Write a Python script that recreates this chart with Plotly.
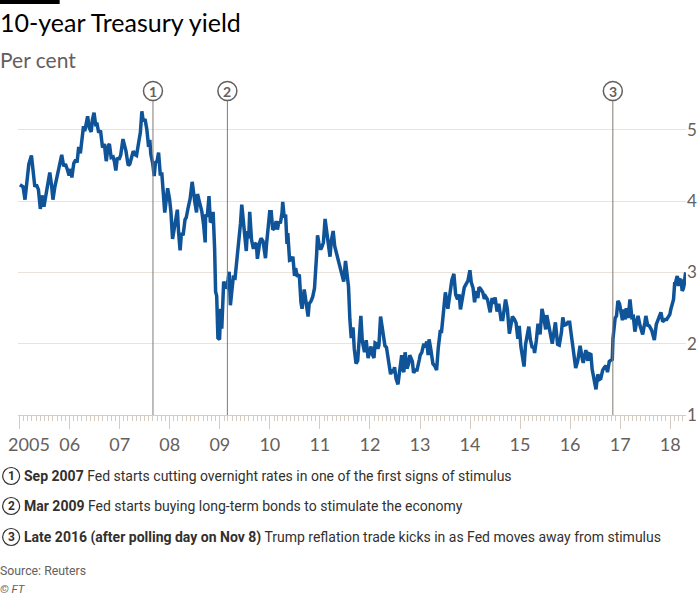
import plotly.graph_objects as go

# ---------------- data ----------------
dates = [
    # 2005
    "2005-01-03","2005-01-14","2005-01-26","2005-02-09","2005-02-22","2005-03-09","2005-03-28","2005-04-12",
    "2005-04-22","2005-05-03","2005-05-18","2005-06-01","2005-06-13","2005-06-27","2005-07-11","2005-07-29",
    "2005-08-09","2005-08-22","2005-09-01","2005-09-15","2005-09-29","2005-10-14","2005-10-27","2005-11-04",
    "2005-11-18","2005-12-01","2005-12-14","2005-12-28",
    # 2006
    "2006-01-10","2006-01-17","2006-01-31","2006-02-14","2006-02-24","2006-03-08","2006-03-20","2006-03-31",
    "2006-04-12","2006-04-21","2006-05-02","2006-05-12","2006-05-24","2006-06-07","2006-06-16","2006-06-28",
    "2006-07-11","2006-07-18","2006-08-01","2006-08-14","2006-08-29","2006-09-11","2006-09-25","2006-10-10",
    "2006-10-18","2006-10-31","2006-11-14","2006-11-24","2006-12-04","2006-12-15","2006-12-27",
    # 2007
    "2007-01-09","2007-01-25","2007-02-07","2007-02-16","2007-02-28","2007-03-05","2007-03-16","2007-03-29",
    "2007-04-10","2007-04-24","2007-05-04","2007-05-22","2007-06-01","2007-06-12","2007-06-22","2007-07-05",
    "2007-07-18","2007-07-31","2007-08-09","2007-08-16","2007-08-30","2007-09-10","2007-09-19","2007-10-01",
    "2007-10-12","2007-10-24","2007-11-05","2007-11-26","2007-12-06","2007-12-17","2007-12-31",
    # 2008
    "2008-01-10","2008-01-22","2008-02-01","2008-02-14","2008-02-26","2008-03-06","2008-03-17","2008-03-27",
    "2008-04-08","2008-04-22","2008-05-01","2008-05-15","2008-05-29","2008-06-13","2008-06-24","2008-07-03",
    "2008-07-15","2008-07-22","2008-08-05","2008-08-22","2008-09-05","2008-09-16","2008-09-19","2008-10-01",
    "2008-10-14","2008-10-24","2008-11-04","2008-11-13","2008-11-24","2008-12-01","2008-12-09","2008-12-18",
    "2008-12-30",
    # 2009
    "2009-01-07","2009-01-15","2009-01-29","2009-02-10","2009-02-20","2009-03-02","2009-03-10","2009-03-19",
    "2009-03-30","2009-04-09","2009-04-22","2009-05-05","2009-05-21","2009-06-01","2009-06-10","2009-06-23",
    "2009-07-02","2009-07-13","2009-07-21","2009-07-31","2009-08-07","2009-08-20","2009-09-03","2009-09-11",
    "2009-09-24","2009-10-02","2009-10-19","2009-10-29","2009-11-12","2009-11-30","2009-12-08","2009-12-21",
    "2009-12-31",
    # 2010
    "2010-01-11","2010-01-22","2010-02-04","2010-02-16","2010-02-25","2010-03-08","2010-03-19","2010-03-31",
    "2010-04-05","2010-04-16","2010-04-26","2010-05-06","2010-05-12","2010-05-25","2010-06-09","2010-06-18",
    "2010-06-30","2010-07-08","2010-07-20","2010-08-04","2010-08-16","2010-08-24","2010-09-09","2010-09-21",
    "2010-10-07","2010-10-15","2010-10-29","2010-11-10","2010-11-23","2010-12-08","2010-12-15","2010-12-29",
    # 2011
    "2011-01-07","2011-01-18","2011-01-27","2011-02-08","2011-02-18","2011-03-01","2011-03-16","2011-03-25",
    "2011-04-08","2011-04-19","2011-04-29","2011-05-11","2011-05-31","2011-06-09","2011-06-24","2011-07-07",
    "2011-07-19","2011-07-29","2011-08-08","2011-08-18","2011-08-31","2011-09-09","2011-09-22","2011-10-04",
    "2011-10-27","2011-11-07","2011-11-23","2011-12-05","2011-12-19","2011-12-30",
    # 2012
    "2012-01-09","2012-01-17","2012-01-31","2012-02-08","2012-02-16","2012-02-28","2012-03-07","2012-03-19",
    "2012-03-30","2012-04-10","2012-04-20","2012-05-01","2012-05-15","2012-05-31","2012-06-08","2012-06-18",
    "2012-06-29","2012-07-10","2012-07-24","2012-08-06","2012-08-20","2012-08-30","2012-09-05","2012-09-14",
    "2012-09-28","2012-10-10","2012-10-18","2012-11-06","2012-11-15","2012-11-28","2012-12-10","2012-12-26",
    # 2013
    "2013-01-02","2013-01-14","2013-01-29","2013-02-08","2013-02-19","2013-03-01","2013-03-08","2013-03-20",
    "2013-04-05","2013-04-18","2013-05-02","2013-05-14","2013-05-28","2013-06-07","2013-06-24","2013-07-05",
    "2013-07-23","2013-08-05","2013-08-21","2013-09-05","2013-09-18","2013-10-02","2013-10-14","2013-10-23",
    "2013-11-06","2013-11-20","2013-12-04","2013-12-16","2013-12-31",
    # 2014
    "2014-01-10","2014-01-23","2014-02-03","2014-02-14","2014-02-27","2014-03-07","2014-03-19","2014-04-04",
    "2014-04-15","2014-04-25","2014-05-08","2014-05-28","2014-06-11","2014-06-25","2014-07-03","2014-07-17",
    "2014-07-30","2014-08-15","2014-08-28","2014-09-17","2014-09-30","2014-10-15","2014-10-24","2014-11-06",
    "2014-11-21","2014-12-03","2014-12-16","2014-12-26",
    # 2015
    "2015-01-07","2015-01-16","2015-01-30","2015-02-10","2015-02-20","2015-03-06","2015-03-17","2015-03-31",
    "2015-04-10","2015-04-17","2015-04-30","2015-05-12","2015-05-27","2015-06-10","2015-06-23","2015-07-07",
    "2015-07-15","2015-07-31","2015-08-11","2015-08-24","2015-09-08","2015-09-16","2015-10-02","2015-10-14",
    "2015-10-30","2015-11-09","2015-11-20","2015-12-04","2015-12-16","2015-12-29",
    # 2016
    "2016-01-06","2016-01-20","2016-02-02","2016-02-11","2016-02-26","2016-03-14","2016-03-31","2016-04-06",
    "2016-04-25","2016-05-10","2016-05-19","2016-06-01","2016-06-10","2016-06-27","2016-07-08","2016-07-21",
    "2016-08-03","2016-08-12","2016-08-26","2016-09-09","2016-09-20","2016-09-30","2016-10-13","2016-10-25",
    "2016-11-04","2016-11-09","2016-11-15","2016-11-25","2016-12-05","2016-12-15","2016-12-27",
    # 2017
    "2017-01-06","2017-01-17","2017-01-27","2017-02-07","2017-02-14","2017-02-28","2017-03-13","2017-03-27",
    "2017-04-07","2017-04-18","2017-05-02","2017-05-11","2017-05-26","2017-06-14","2017-06-30","2017-07-07",
    "2017-07-20","2017-08-01","2017-08-18","2017-09-07","2017-09-21","2017-10-04","2017-10-25","2017-11-07",
    "2017-11-24","2017-12-06","2017-12-18","2017-12-29",
    # 2018
    "2018-01-05","2018-01-12","2018-01-25","2018-02-02","2018-02-07","2018-02-15","2018-02-21","2018-03-01",
    "2018-03-09","2018-03-21","2018-03-29","2018-04-06","2018-04-13","2018-04-20","2018-04-24",
]

yields = [
    # 2005
    4.23,4.21,4.20,4.02,4.28,4.52,4.64,4.39,
    4.20,4.23,4.16,3.89,4.08,3.92,4.10,4.28,
    4.40,4.22,4.02,4.20,4.33,4.48,4.55,4.65,
    4.49,4.52,4.45,4.36,
    # 2006
    4.45,4.33,4.53,4.58,4.54,4.76,4.67,4.85,
    5.05,4.98,5.12,5.19,5.03,4.97,5.14,5.24,
    5.05,5.10,4.96,4.99,4.75,4.80,4.56,4.78,
    4.80,4.61,4.62,4.55,4.43,4.61,4.58,
    # 2007
    4.65,4.87,4.78,4.70,4.55,4.50,4.52,4.63,
    4.70,4.65,4.64,4.85,4.96,5.26,5.12,5.15,
    5.01,4.76,4.86,4.66,4.53,4.35,4.54,4.56,
    4.68,4.38,4.38,3.84,4.00,4.18,4.03,
    # 2008
    3.85,3.47,3.59,3.79,3.88,3.56,3.31,3.55,
    3.52,3.74,3.77,3.91,4.03,4.27,4.07,3.98,
    3.84,4.10,3.99,3.86,3.66,3.42,3.81,3.78,
    4.07,3.70,3.73,3.85,3.33,2.73,2.67,2.08,
    2.06,
    # 2009
    2.49,2.21,2.87,2.80,2.79,2.90,3.01,2.54,
    2.71,2.93,2.92,3.16,3.40,3.69,3.95,3.65,
    3.50,3.30,3.58,3.48,3.85,3.46,3.33,3.39,
    3.41,3.19,3.42,3.48,3.44,3.20,3.40,3.60,
    3.85,
    # 2010
    3.85,3.60,3.62,3.72,3.60,3.71,3.69,3.84,
    3.99,3.77,3.81,3.40,3.55,3.17,3.18,3.22,
    2.95,3.06,2.94,2.97,2.58,2.49,2.76,2.61,
    2.38,2.56,2.60,2.66,2.78,3.24,3.52,3.36,
    # 2011
    3.32,3.37,3.42,3.75,3.58,3.41,3.22,3.44,
    3.58,3.37,3.29,3.21,3.05,2.98,2.87,3.16,
    2.89,2.80,2.34,2.08,2.23,1.93,1.72,1.76,
    2.39,2.03,1.88,2.05,1.80,1.88,
    # 2012
    1.96,1.86,1.80,2.01,2.00,1.93,1.98,2.38,
    2.21,2.05,1.97,1.95,1.76,1.57,1.64,1.59,
    1.67,1.51,1.43,1.59,1.84,1.63,1.60,1.88,
    1.65,1.72,1.84,1.75,1.59,1.63,1.63,1.77,
    # 2013
    1.84,1.88,2.00,1.95,2.03,1.84,2.06,1.93,
    1.72,1.69,1.63,1.94,2.17,2.17,2.55,2.72,
    2.49,2.64,2.89,2.98,2.69,2.62,2.69,2.48,
    2.62,2.79,2.84,2.88,3.03,
    # 2014
    2.86,2.78,2.58,2.74,2.64,2.79,2.77,2.72,
    2.63,2.66,2.62,2.44,2.64,2.56,2.65,2.45,
    2.56,2.34,2.34,2.62,2.49,2.14,2.27,2.38,
    2.34,2.29,2.07,2.25,
    # 2015
    1.96,1.83,1.68,1.99,2.13,2.24,2.06,1.94,
    1.96,1.87,2.05,2.28,2.13,2.49,2.37,2.20,
    2.40,2.20,2.13,2.00,2.23,2.30,1.99,1.98,
    2.16,2.37,2.26,2.27,2.30,2.30,
    # 2016
    2.18,1.98,1.86,1.66,1.76,1.97,1.78,1.73,
    1.91,1.76,1.86,1.85,1.64,1.46,1.36,1.57,
    1.50,1.51,1.63,1.67,1.69,1.60,1.75,1.77,
    1.78,2.07,2.22,2.36,2.39,2.60,2.56,
    # 2017
    2.42,2.33,2.48,2.34,2.50,2.36,2.62,2.37,
    2.38,2.17,2.32,2.39,2.25,2.13,2.30,2.39,
    2.26,2.25,2.19,2.05,2.27,2.33,2.44,2.31,
    2.34,2.34,2.39,2.41,
    # 2018
    2.48,2.55,2.62,2.84,2.84,2.91,2.95,2.81,
    2.90,2.89,2.74,2.77,2.83,2.96,3.00,
]

year_ticks = ["2005-01-01","2006-01-01","2007-01-01","2008-01-01","2009-01-01","2010-01-01","2011-01-01",
              "2012-01-01","2013-01-01","2014-01-01","2015-01-01","2016-01-01","2017-01-01","2018-01-01"]
year_labels = ["","06","07","08","09","10","11","12","13","14","15","16","17","18"]
first_year_label = "2005"
first_year_label_at = "2005-03-10"   # the full-year label sits a little right of its tick
y_ticks = [1, 2, 3, 4, 5]

event_dates = ["2007-09-01", "2009-02-25", "2016-11-08"]
event_nums = ["1", "2", "3"]
event_bold = ["Sep 2007", "Mar 2009", "Late 2016 (after polling day on Nov 8)"]
event_text = ["Fed starts cutting overnight rates in one of the first signs of stimulus",
              "Fed starts buying long-term bonds to stimulate the economy",
              "Trump reflation trade kicks in as Fed moves away from stimulus"]

# ---------------- layout helpers ----------------
W_, H_ = 700, 597
PX_PER_YEAR = 50.0
X_START, X_END = "2004-12-20", "2018-04-26"   # 2005-01-01 sits at x=20px
L = 20 - PX_PER_YEAR * 12 / 365.25
R, T, B = 686, 101, 415
PW, PH = R - L, B - T


def xp(px):
    return (px - L) / PW


def yp(py):
    return (B - py) / PH


BLUE = "#0f5499"
GREY = "#66605c"
DARK = "#33302e"
GRID = "#ebe2da"
AXIS = "#d6ccc2"
FONT = "Lato, 'Noto Sans', sans-serif"
NOTE = "Roboto, 'Liberation Sans', sans-serif"

fig = go.Figure()
fig.add_trace(go.Scatter(x=dates, y=yields, mode="lines",
                         line=dict(color=BLUE, width=3.5), hoverinfo="skip"))
# carrier for the secondary x axis that holds the first (full-year) label
fig.add_trace(go.Scatter(x=[], y=[], xaxis="x2", yaxis="y", mode="lines", hoverinfo="skip"))

shapes = []
annotations = []

# top black bar
shapes.append(dict(type="rect", xref="paper", yref="paper", x0=xp(0), x1=xp(60), y0=yp(4), y1=yp(0),
                   fillcolor="#000000", line=dict(width=0)))

# event lines + circles
cy = yp(91)
for d, n in zip(event_dates, event_nums):
    shapes.append(dict(type="line", xref="x", yref="paper", x0=d, x1=d, y0=0, y1=yp(101),
                       line=dict(color="#807973", width=1)))
    shapes.append(dict(type="circle", xref="x", yref="paper", xsizemode="pixel", ysizemode="pixel",
                       xanchor=d, yanchor=cy, x0=-9.5, x1=9.5, y0=-9.5, y1=9.5,
                       line=dict(color=GREY, width=1.5), fillcolor="white"))
    annotations.append(dict(xref="x", yref="paper", x=d, y=cy, text="<b>%s</b>" % n, showarrow=False,
                            xanchor="center", yanchor="middle",
                            font=dict(family=FONT, size=14, color=GREY)))

# footnotes
rows_y = [476, 506, 537]
for ry, n, b, t in zip(rows_y, event_nums, event_bold, event_text):
    shapes.append(dict(type="circle", xref="paper", yref="paper", xsizemode="pixel", ysizemode="pixel",
                       xanchor=xp(11.5), yanchor=yp(ry), x0=-8.5, x1=8.5, y0=-8.5, y1=8.5,
                       line=dict(color=DARK, width=1.2), fillcolor="white"))
    annotations.append(dict(xref="paper", yref="paper", x=xp(11.5), y=yp(ry), text="<b>%s</b>" % n,
                            showarrow=False, xanchor="center", yanchor="middle",
                            font=dict(family=NOTE, size=12, color=DARK)))
    annotations.append(dict(xref="paper", yref="paper", x=xp(22), y=yp(ry),
                            text="<b>%s</b> %s" % (b, t), showarrow=False, xanchor="left", yanchor="middle",
                            font=dict(family=NOTE, size=14, color=DARK)))

# title, subtitle, source
annotations.append(dict(xref="paper", yref="paper", x=xp(-2), y=yp(22), text="10-year Treasury yield",
                        showarrow=False, xanchor="left", yanchor="middle",
                        font=dict(family=FONT, size=25, color="#000000")))
annotations.append(dict(xref="paper", yref="paper", x=xp(-2), y=yp(60), text="Per cent",
                        showarrow=False, xanchor="left", yanchor="middle",
                        font=dict(family=FONT, size=21, color=GREY)))
annotations.append(dict(xref="paper", yref="paper", x=xp(-2), y=yp(571), text="Source: Reuters",
                        showarrow=False, xanchor="left", yanchor="middle",
                        font=dict(family=NOTE, size=12.3, color=GREY)))
annotations.append(dict(xref="paper", yref="paper", x=xp(-2), y=yp(589), text="<i>© FT</i>",
                        showarrow=False, xanchor="left", yanchor="middle",
                        font=dict(family=NOTE, size=11.5, color=GREY)))

ymax = 1 + PH / 71.3
tickfont_x = dict(family=FONT, size=18, color=GREY)

fig.update_layout(
    width=W_, height=H_, autosize=False,
    margin=dict(l=L, r=W_ - R, t=T, b=H_ - B, pad=0),
    paper_bgcolor="white", plot_bgcolor="white",
    showlegend=False,
    shapes=shapes, annotations=annotations,
    xaxis=dict(type="date", range=[X_START, X_END], automargin=False,
               tickmode="array", tickvals=year_ticks, ticktext=year_labels,
               ticks="outside", ticklen=13, tickwidth=1, tickcolor=AXIS,
               showline=True, linecolor=AXIS, linewidth=1,
               showgrid=False, zeroline=False, tickfont=tickfont_x,
               minor=dict(ticks="outside", ticklen=5, tickwidth=1, tickcolor=AXIS,
                          tickmode="linear", dtick="M1", tick0="2005-01-01", showgrid=False)),
    xaxis2=dict(type="date", range=[X_START, X_END], overlaying="x", side="bottom", anchor="y",
                automargin=False, tickmode="array", tickvals=[first_year_label_at],
                ticktext=[first_year_label], ticks="outside", ticklen=13,
                tickcolor="rgba(0,0,0,0)", showline=False, showgrid=False, zeroline=False,
                tickfont=tickfont_x),
    yaxis=dict(range=[1, ymax], side="right", tickmode="array", tickvals=y_ticks, automargin=False,
               ticklabeloverflow="allow",
               showgrid=True, gridcolor=GRID, gridwidth=1, zeroline=False, ticks="",
               showline=False,
               tickfont=dict(family=FONT, size=17, color=GREY)),
)

fig.write_html("out.html", config={"displayModeBar": False},
               post_script="document.body.style.margin='0';document.body.style.padding='0';")
